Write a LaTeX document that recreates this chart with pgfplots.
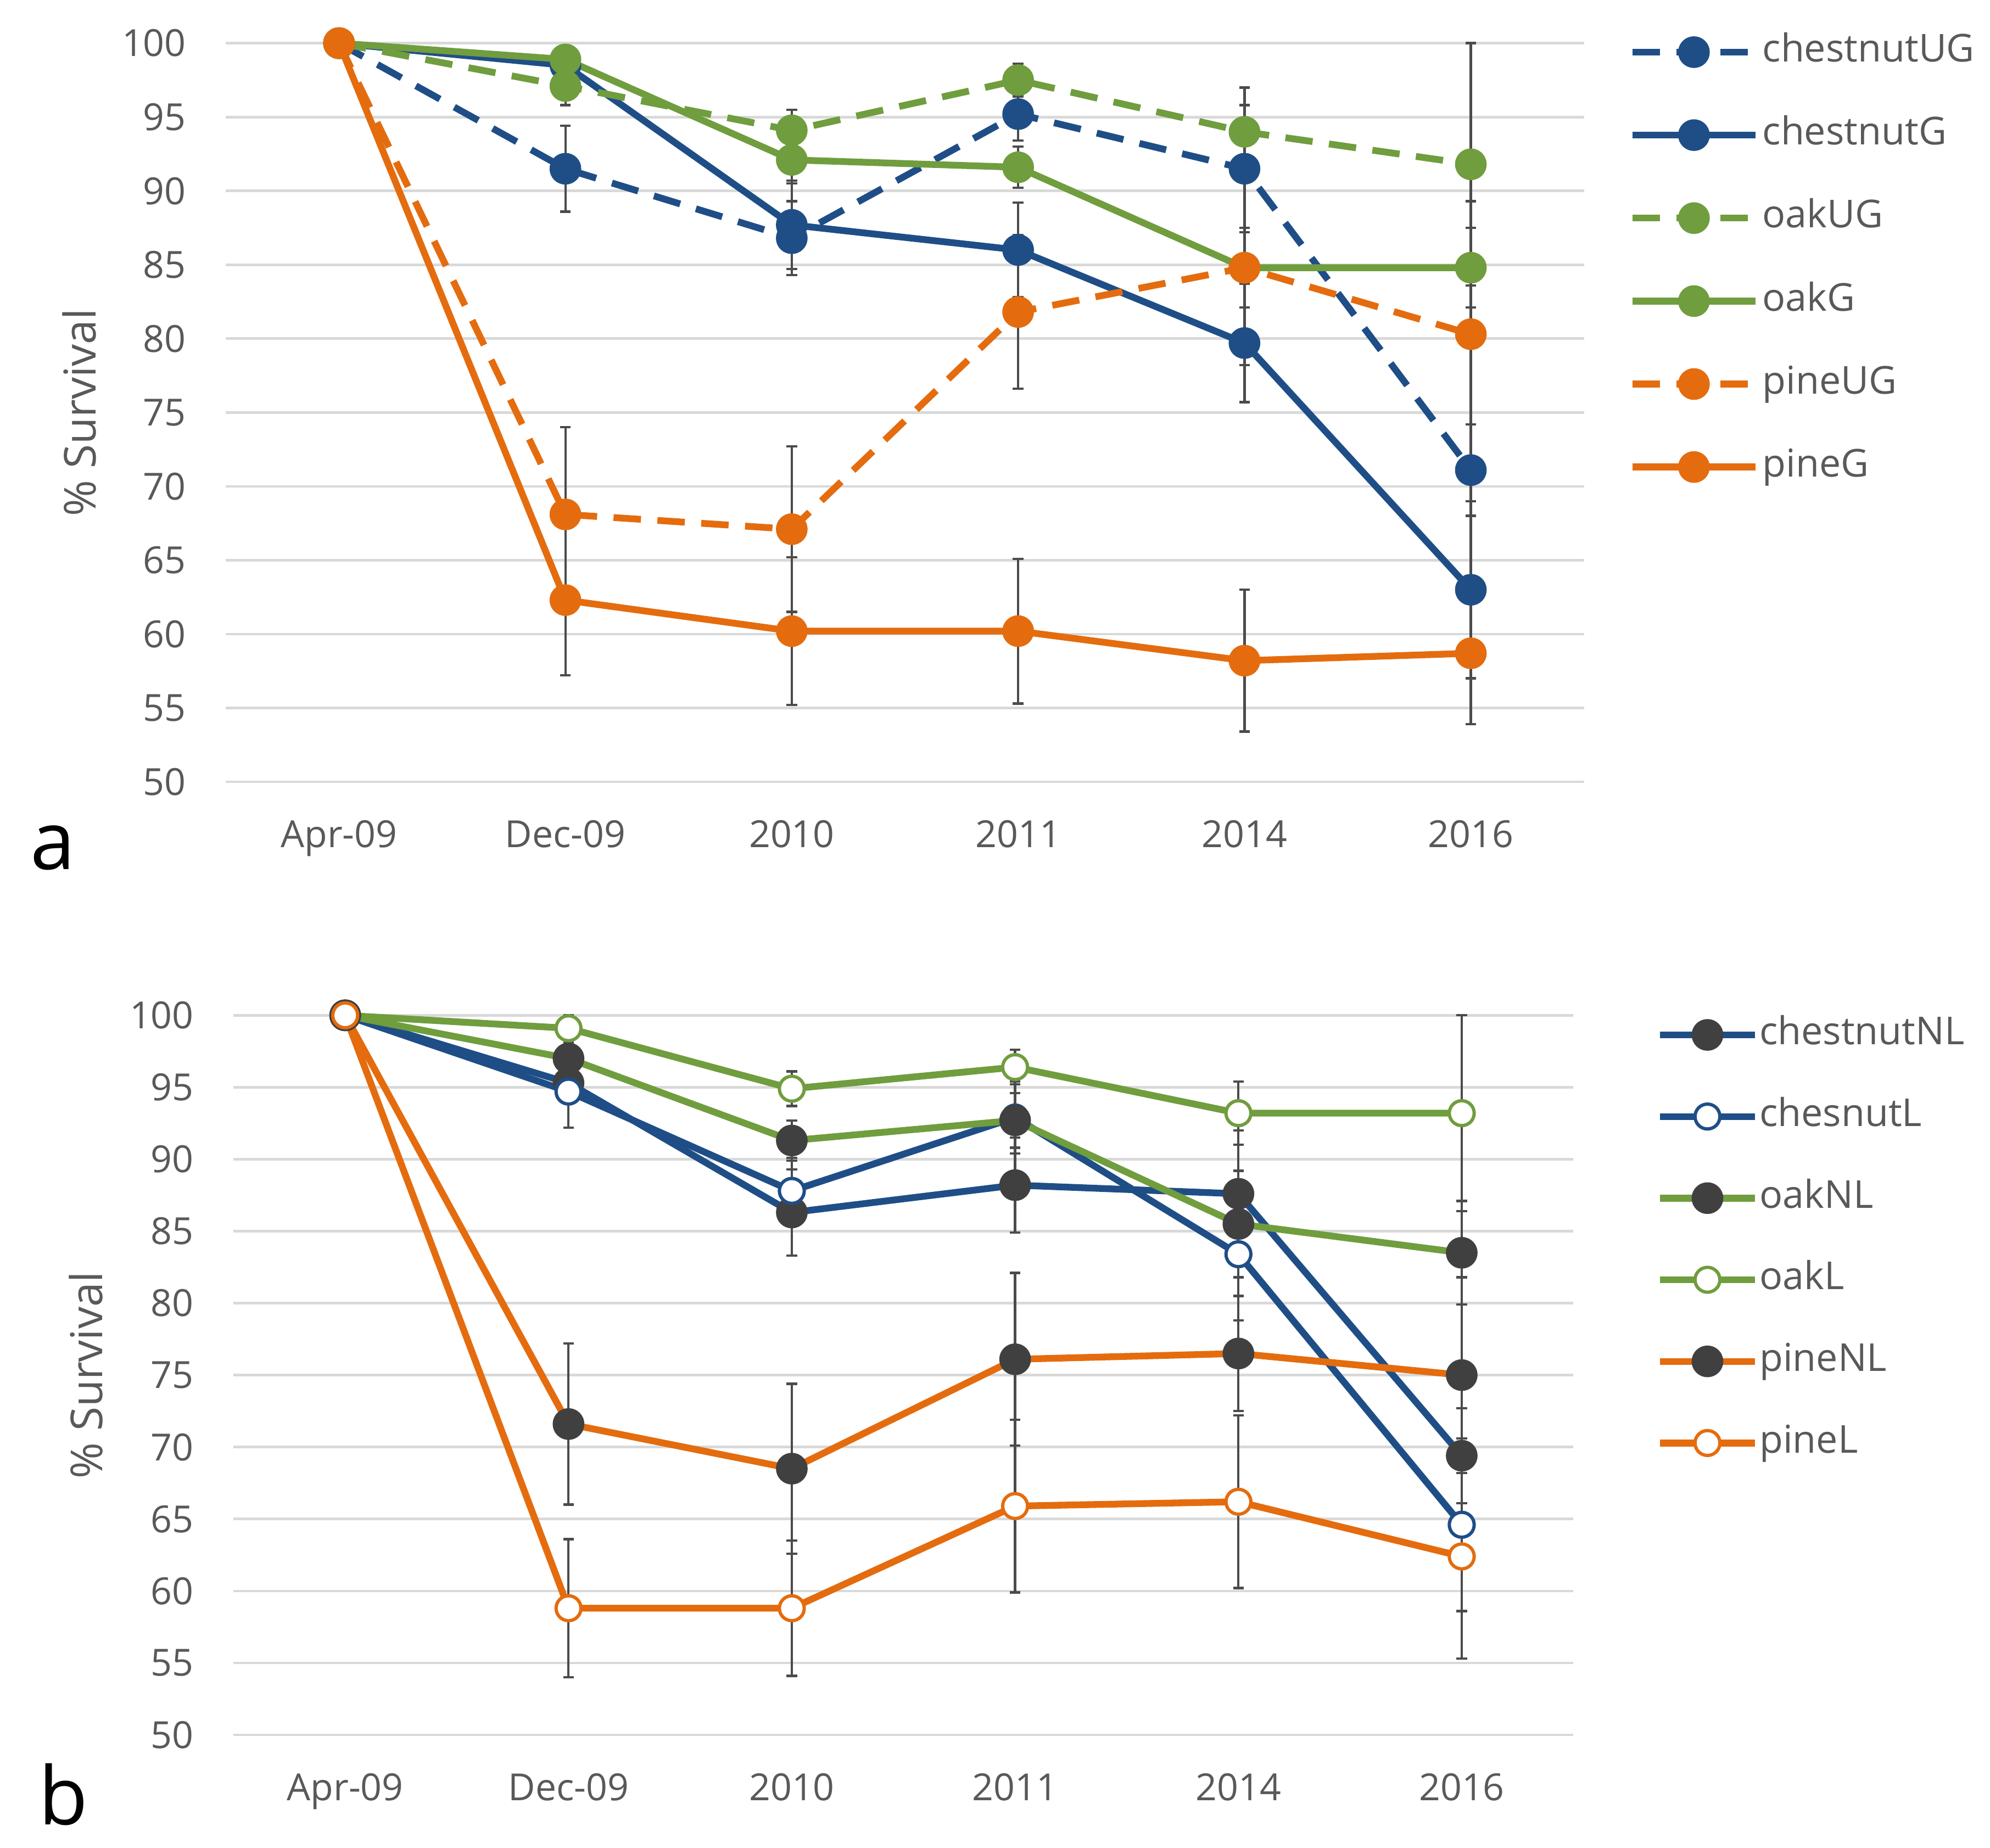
\documentclass[border=0pt]{standalone}
\usepackage{pgfplots}
\pgfplotsset{compat=1.18}
\usepackage{pgfplotstable}
\usepackage{fontspec}
\setmainfont{Open Sans}

\definecolor{cblue}{RGB}{31,78,135}
\definecolor{cgreen}{RGB}{112,157,62}
\definecolor{corange}{RGB}{228,108,14}
\definecolor{nlgray}{RGB}{64,64,64}
\definecolor{txtgray}{RGB}{89,89,89}
\definecolor{ebgray}{RGB}{75,75,75}
\definecolor{gridgray}{RGB}{217,217,217}

% survival (%) and error, panel a
\pgfplotstableread{
x cUG cUGe cG cGe oUG oUGe oG oGe pUG pUGe pG pGe
0 100 0 100 0 100 0 100 0 100 0 100 0
1 91.5 2.9 98.5 1.2 97.1 1.3 98.9 0.8 68.1 5.9 62.3 5.1
2 86.8 2.5 87.7 3.0 94.1 1.4 92.1 1.6 67.1 5.6 60.2 5.0
3 95.2 1.8 86.0 3.2 97.5 1.1 91.6 1.4 81.8 5.2 60.2 4.9
4 91.5 4.3 79.7 4.0 94.0 3.0 84.8 2.7 84.8 6.6 58.2 4.8
5 71.1 3.1 63.0 6.0 91.8 8.2 84.8 2.7 80.3 9.0 58.7 4.8
}\topdata

% panel b
\pgfplotstableread{
x cNL cNLe cL cLe oNL oNLe oL oLe pNL pNLe pL pLe
0 100 0 100 0 100 0 100 0 100 0 100 0
1 95.3 3.1 94.7 2.5 97.0 1.1 99.1 0.9 71.6 5.6 58.8 4.8
2 86.3 3.0 87.8 2.3 91.3 1.4 94.9 1.2 68.5 5.9 58.8 4.7
3 88.2 3.3 92.9 2.5 92.7 1.9 96.4 1.2 76.1 6.0 65.9 6.0
4 87.6 4.4 83.4 4.6 85.5 3.7 93.2 2.2 76.5 4.0 66.2 6.0
5 69.4 3.3 64.6 6.0 83.5 3.6 93.2 6.8 75.0 6.8 62.4 7.1
}\botdata

\pgfplotsset{
  surv/.style={
    scale only axis, clip=false,
    xmin=-0.5, xmax=5.5, ymin=50, ymax=100,
    xtick={0,...,5},
    xticklabels={Apr-09,Dec-09,2010,2011,2014,2016},
    ytick={50,55,...,100},
    yticklabels={50,55,60,65,70,75,80,85,90,95,100},
    ymajorgrids, grid style={gridgray, line width=0.7pt},
    axis line style={draw=none}, major tick length=0pt,
    tick label style={font=\fontsize{10.2}{12}\selectfont, text=txtgray},
    xticklabel style={anchor=base, inner sep=0pt, yshift=-18pt},
    yticklabel style={anchor=east, inner sep=0pt, xshift=-10.7pt},
    ylabel={\% Survival},
    ylabel style={font=\fontsize{12}{14}\selectfont, text=txtgray, anchor=center},
    legend cell align=left,
    legend style={draw=none, fill=none, inner sep=0pt, column sep=1pt,
      font=\fontsize{10.5}{12}\selectfont, text=txtgray,
      nodes={inner sep=0pt, text height=7.5pt, text depth=2.2pt}},
    every axis plot/.append style={line width=1.85pt, mark=*, mark size=3.4pt},
    error bars/y dir=both, error bars/y explicit,
    error bars/error bar style={solid, line width=0.65pt, ebgray},
    error bars/error mark options={solid, rotate=90, mark size=1.45pt, line width=0.65pt, ebgray},
  },
  dsh/.style={dash pattern=on 7.5pt off 4.5pt},
}

\begin{document}
\begin{tikzpicture}
\useasboundingbox (0,0) rectangle (543.6pt,-504.9pt);

\begin{axis}[surv, at={(61.7pt,-11.8pt)}, anchor=north west,
  width=371pt, height=201.8pt,
  ylabel style={at={(axis description cs:-0.108,0.5)}},
  legend style={at={(1,1)}, anchor=north west, xshift=12.1pt, yshift=2.6pt, row sep=12.97pt},
  legend image code/.code={\draw[mark repeat=2,mark phase=2,#1] plot coordinates {(0pt,0pt) (16.8pt,0pt) (33.6pt,0pt)};}]
\addplot[cblue, dsh, mark options={solid, fill=cblue, draw=cblue}] table[x=x, y=cUG, y error=cUGe] {\topdata};
\addlegendentry{chestnutUG}
\addplot[cblue, mark options={fill=cblue, draw=cblue}] table[x=x, y=cG, y error=cGe] {\topdata};
\addlegendentry{chestnutG}
\addplot[cgreen, dsh, mark options={solid, fill=cgreen, draw=cgreen}] table[x=x, y=oUG, y error=oUGe] {\topdata};
\addlegendentry{oakUG}
\addplot[cgreen, mark options={fill=cgreen, draw=cgreen}] table[x=x, y=oG, y error=oGe] {\topdata};
\addlegendentry{oakG}
\addplot[corange, dsh, mark options={solid, fill=corange, draw=corange}] table[x=x, y=pUG, y error=pUGe] {\topdata};
\addlegendentry{pineUG}
\addplot[corange, mark options={fill=corange, draw=corange}] table[x=x, y=pG, y error=pGe] {\topdata};
\addlegendentry{pineG}
\end{axis}

\begin{axis}[surv, at={(63.8pt,-277.4pt)}, anchor=north west,
  width=366pt, height=196.6pt,
  ylabel style={at={(axis description cs:-0.110,0.5)}},
  legend style={at={(1,1)}, anchor=north west, xshift=22.5pt, yshift=-0.3pt, row sep=12.6pt, column sep=0.3pt},
  legend image code/.code={\draw[mark repeat=2,mark phase=2,#1] plot coordinates {(0pt,0pt) (13pt,0pt) (26pt,0pt)};}]
\addplot[cblue, mark options={fill=nlgray, draw=nlgray}] table[x=x, y=cNL, y error=cNLe] {\botdata};
\addlegendentry{chestnutNL}
\addplot[cblue, mark options={fill=white, draw=cblue, line width=0.9pt}] table[x=x, y=cL, y error=cLe] {\botdata};
\addlegendentry{chesnutL}
\addplot[cgreen, mark options={fill=nlgray, draw=nlgray}] table[x=x, y=oNL, y error=oNLe] {\botdata};
\addlegendentry{oakNL}
\addplot[cgreen, mark options={fill=white, draw=cgreen, line width=0.9pt}] table[x=x, y=oL, y error=oLe] {\botdata};
\addlegendentry{oakL}
\addplot[corange, mark options={fill=nlgray, draw=nlgray}] table[x=x, y=pNL, y error=pNLe] {\botdata};
\addlegendentry{pineNL}
\addplot[corange, mark options={fill=white, draw=corange, line width=0.9pt}] table[x=x, y=pL, y error=pLe] {\botdata};
\addlegendentry{pineL}
\end{axis}

\node[font=\fontsize{22}{26}\selectfont, anchor=base] at (14.4pt,-237.5pt) {a};
\node[font=\fontsize{22}{26}\selectfont, anchor=base] at (17.3pt,-498.5pt) {b};
\end{tikzpicture}
\end{document}
